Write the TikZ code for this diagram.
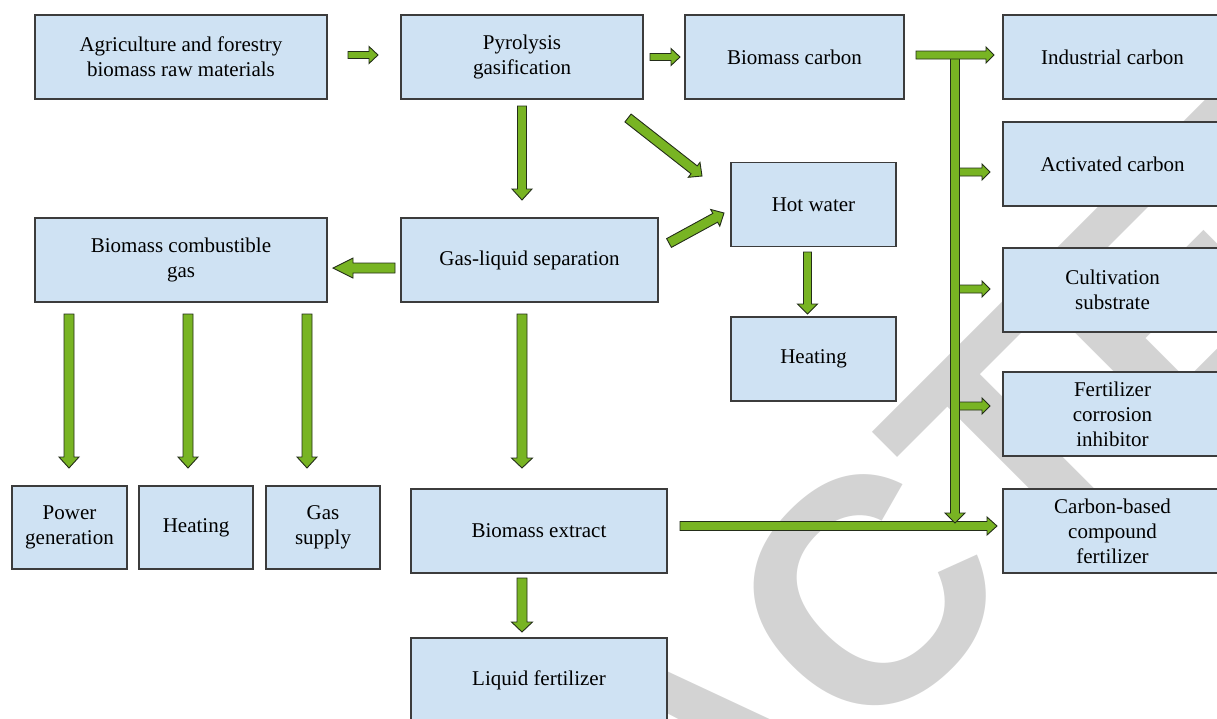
\documentclass[tikz,border=0pt]{standalone}
\usepackage{fontspec}
\setmainfont{Liberation Serif}
\newfontfamily\wmfont{Liberation Sans}
\usetikzlibrary{calc}
\definecolor{boxfill}{RGB}{207,226,243}
\definecolor{boxline}{RGB}{60,60,60}
\definecolor{arrfill}{RGB}{120,180,35}
\definecolor{arrline}{RGB}{35,45,25}
\definecolor{wmgray}{RGB}{211,211,211}
\tikzset{
  box/.style={draw=boxline, fill=boxfill, line width=1.1pt, align=center, inner sep=0pt,
    font=\fontsize{21}{25}\selectfont},
  barrow/.style={draw=arrline, fill=arrfill, line width=0.9pt, line join=miter},
}
% start, end, shaft half width, head half width, head length
\newcommand\blockarr[5]{%
  \coordinate (tmpH) at ($(#2)!#5!(#1)$);
  \draw[barrow] ($(#1)!#3!90:(#2)$) -- ($(tmpH)!#3!90:(#2)$) -- ($(tmpH)!#4!90:(#2)$) -- (#2)
    -- ($(tmpH)!#4!-90:(#2)$) -- ($(tmpH)!#3!-90:(#2)$) -- ($(#1)!#3!-90:(#2)$) -- cycle;}
\begin{document}
\begin{tikzpicture}[x=1pt,y=-1pt]
\useasboundingbox (0,0) rectangle (1217,718);
\clip (0,0) rectangle (1217,718);
% watermark
\node[text=wmgray, rotate=45, inner sep=0pt,
  font=\wmfont\bfseries\fontsize{320}{320}\selectfont] (wm) at (703,758) {RETRACTED};
% boxes
\node[box, minimum width=292pt, minimum height=84pt] (agri) at (181,57) {Agriculture and forestry\\biomass raw materials};
\node[box, minimum width=242pt, minimum height=84pt] (pyro) at (522,57) {Pyrolysis\\gasification};
\node[box, minimum width=219pt, minimum height=84pt] (bcarb) at (794.5,57) {Biomass carbon};
\node[box, minimum width=219pt, minimum height=84pt] (indc) at (1112.5,57) {Industrial carbon};
\node[box, minimum width=219pt, minimum height=84pt] (actc) at (1112.5,164) {Activated carbon};
\node[box, minimum width=165pt, minimum height=84pt] (hotw) at (813.5,204.5) {Hot water};
\node[box, minimum width=292pt, minimum height=84pt] (bcgas) at (181,260) {Biomass combustible\\gas};
\node[box, minimum width=257pt, minimum height=84pt] (gls) at (529.5,260) {Gas-liquid separation};
\node[box, minimum width=219pt, minimum height=84pt] (cult) at (1112.5,290) {Cultivation\\substrate};
\node[box, minimum width=165pt, minimum height=84pt] (heatm) at (813.5,359) {Heating};
\node[box, minimum width=219pt, minimum height=84pt] (fci) at (1112.5,414) {Fertilizer\\corrosion\\inhibitor};
\node[box, minimum width=115pt, minimum height=83pt] (power) at (69.5,527.5) {Power\\generation};
\node[box, minimum width=114pt, minimum height=83pt] (heatl) at (196,527.5) {Heating};
\node[box, minimum width=114pt, minimum height=83pt] (gas) at (323,527.5) {Gas\\supply};
\node[box, minimum width=256pt, minimum height=84pt] (bext) at (539,531) {Biomass extract};
\node[box, minimum width=219pt, minimum height=84pt] (cbcf) at (1112.5,531) {Carbon-based\\compound\\fertilizer};
\node[box, minimum width=256pt, minimum height=84pt] (liqf) at (539,680) {Liquid fertilizer};
% arrow end points
\coordinate (a1s) at (348,55);   \coordinate (a1e) at (378,55);
\coordinate (a2s) at (650,57);   \coordinate (a2e) at (680,57);
\coordinate (a3s) at (522,106);  \coordinate (a3e) at (522,200);
\coordinate (a4s) at (628,118);  \coordinate (a4e) at (702,176);
\coordinate (a5s) at (669,243);  \coordinate (a5e) at (724,213);
\coordinate (a6s) at (395,268);  \coordinate (a6e) at (333,268);
\coordinate (a7s) at (69,314);   \coordinate (a7e) at (69,468);
\coordinate (a8s) at (188,314);  \coordinate (a8e) at (188,468);
\coordinate (a9s) at (307,314);  \coordinate (a9e) at (307,468);
\coordinate (a10s) at (522,314); \coordinate (a10e) at (522,468);
\coordinate (a11s) at (807.5,252); \coordinate (a11e) at (807.5,314);
\coordinate (a12s) at (522,578); \coordinate (a12e) at (522,632);
\coordinate (a13s) at (680,526); \coordinate (a13e) at (997,526);
\coordinate (a14s) at (955,55);  \coordinate (a14e) at (955,523);
\coordinate (b1s) at (959.5,172); \coordinate (b1e) at (990,172);
\coordinate (b2s) at (959.5,289); \coordinate (b2e) at (990,289);
\coordinate (b3s) at (959.5,406); \coordinate (b3e) at (990,406);
\coordinate (a15s) at (916,55);  \coordinate (a15e) at (994,55);
% arrows
\blockarr{a1s}{a1e}{3.5pt}{8.5pt}{9pt}
\blockarr{a2s}{a2e}{3.5pt}{8.5pt}{9pt}
\blockarr{a3s}{a3e}{4.5pt}{10pt}{11pt}
\blockarr{a4s}{a4e}{5pt}{9.5pt}{10pt}
\blockarr{a5s}{a5e}{5pt}{9.5pt}{10pt}
\blockarr{a6s}{a6e}{5pt}{10pt}{20pt}
\blockarr{a7s}{a7e}{5pt}{10pt}{11pt}
\blockarr{a8s}{a8e}{5pt}{10pt}{11pt}
\blockarr{a9s}{a9e}{5pt}{10pt}{11pt}
\blockarr{a10s}{a10e}{5pt}{10.5pt}{10pt}
\blockarr{a11s}{a11e}{4pt}{10pt}{10pt}
\blockarr{a12s}{a12e}{5pt}{10.5pt}{10pt}
\blockarr{a13s}{a13e}{4.5pt}{9pt}{10pt}
\blockarr{a14s}{a14e}{4.5pt}{10pt}{10pt}
\blockarr{b1s}{b1e}{4pt}{8pt}{8pt}
\blockarr{b2s}{b2e}{4pt}{8pt}{8pt}
\blockarr{b3s}{b3e}{4pt}{8pt}{8pt}
\blockarr{a15s}{a15e}{4pt}{8pt}{8pt}
\end{tikzpicture}
\end{document}
